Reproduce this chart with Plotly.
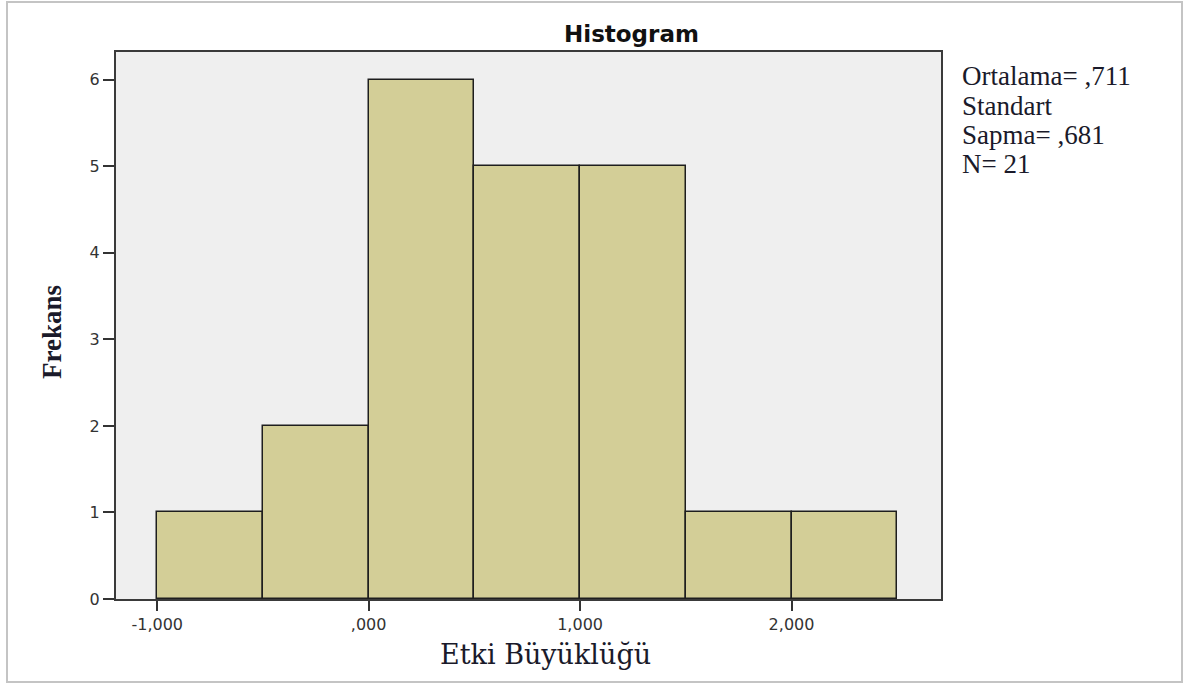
import plotly.graph_objects as go

# Data
bin_starts = [-1.0, -0.5, 0.0, 0.5, 1.0, 1.5, 2.0]
bin_width = 0.5
counts = [1, 2, 6, 5, 5, 1, 1]
x_tickvals = [-1, 0, 1, 2]
x_ticktext = ["-1,000", ",000", "1,000", "2,000"]
y_tickvals = [0, 1, 2, 3, 4, 5, 6]
stats_lines = ["Ortalama= ,711", "Standart", "Sapma= ,681", "N= 21"]
title_text = "Histogram"
x_title = "Etki Büyüklüğü"
y_title = "Frekans"

W, H = 1197, 686
ML, MR, MT, MB = 116, 256, 52, 87
PW, PH = W - ML - MR, H - MT - MB


def px(xp):
    return (xp - ML) / PW


def py(yp):
    return (H - MB - yp) / PH


centers = [s + bin_width / 2 for s in bin_starts]

fig = go.Figure()
fig.add_trace(go.Bar(
    x=centers, y=counts, width=bin_width,
    marker=dict(color="#D3CE97", line=dict(color="#1e1e1e", width=1.5)),
    hoverinfo="skip",
))

annotations = []
annotations.append(dict(text=title_text, xref="paper", yref="paper", x=px(631), y=py(34),
                        xanchor="center", yanchor="middle", showarrow=False,
                        font=dict(family="DejaVu Sans", size=23, color="#111", weight="bold")))
annotations.append(dict(text=x_title, xref="paper", yref="paper", x=px(545), y=py(654),
                        xanchor="center", yanchor="middle", showarrow=False,
                        font=dict(family="DejaVu Serif", size=27, color="#1a1a2a")))
annotations.append(dict(text=y_title, xref="paper", yref="paper", x=px(52), y=py(332),
                        xanchor="center", yanchor="middle", showarrow=False, textangle=-90,
                        font=dict(family="Liberation Serif", size=27, color="#1a1a2a", weight="bold")))
line_centers = [76, 106, 135, 164]
for txt, yc in zip(stats_lines, line_centers):
    annotations.append(dict(text=txt, xref="paper", yref="paper", x=px(960), y=py(yc),
                            xanchor="left", yanchor="middle", showarrow=False,
                            font=dict(family="Liberation Serif", size=27, color="#1a1a2a")))

shapes = [dict(type="rect", xref="paper", yref="paper",
               x0=px(7), x1=px(1182), y0=py(682), y1=py(2),
               line=dict(color="#c4c4c4", width=2), fillcolor="rgba(0,0,0,0)", layer="below")]

fig.update_layout(
    width=W, height=H,
    margin=dict(l=ML, r=MR, t=MT, b=MB),
    paper_bgcolor="white", plot_bgcolor="#EFEFEF",
    showlegend=False, bargap=0,
    annotations=annotations, shapes=shapes,
    xaxis=dict(range=[-1.195, 2.707], tickvals=x_tickvals, ticktext=x_ticktext,
               ticks="outside", ticklen=10, tickwidth=2, tickcolor="#333",
               showline=True, linecolor="#3a3a3a", linewidth=2, mirror=True,
               showgrid=False, zeroline=False,
               tickfont=dict(family="DejaVu Sans", size=16, color="#333")),
    yaxis=dict(range=[0, 6.32], tickvals=y_tickvals,
               ticks="outside", ticklen=11, tickwidth=2, tickcolor="#333",
               showline=True, linecolor="#3a3a3a", linewidth=2, mirror=True,
               showgrid=False, zeroline=False,
               tickfont=dict(family="DejaVu Sans", size=16, color="#333")),
)

fig.write_html("out.html", config={"displayModeBar": False},
               post_script="document.body.style.margin='0';document.body.style.overflow='hidden';")
